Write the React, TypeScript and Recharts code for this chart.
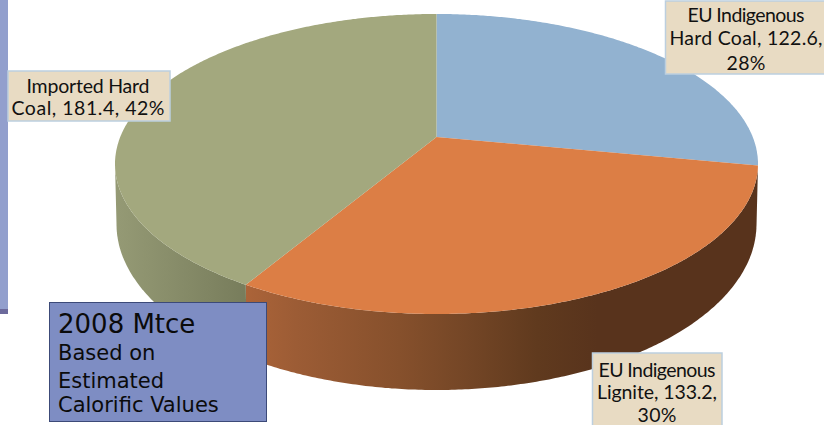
import React from 'react';
import { PieChart, Pie } from 'recharts';

const categories = ['EU Indigenous Hard Coal', 'EU Indigenous Lignite', 'Imported Hard Coal'];
const values = [122.6, 133.2, 181.4];
const labelLines = [
  ['EU Indigenous', 'Hard Coal, 122.6,', '28%'],
  ['EU Indigenous', 'Lignite, 133.2,', '30%'],
  ['Imported Hard', 'Coal, 181.4, 42%'],
];
const topColors = ['#92B2D0', '#DC7E45', '#A3A87E'];
const wallStops = [
  [['0%', '#92B2D0'], ['100%', '#92B2D0']],
  [['0%', '#AC6439'], ['15%', '#9C5C35'], ['44%', '#86502C'], ['63%', '#744626'], ['83%', '#603A1E'], ['100%', '#58331C']],
  [['0%', '#959A75'], ['100%', '#787D5C']],
];

const data = categories.map((name, i) => ({ name, value: values[i] }));

// label boxes, in chart pixels; widths are the set width of each text line
const labelBoxes = [
  { x: 665.5, y: 1, w: 162, h: 73, cx: 746, lines: [22, 45, 70], widths: [117, 153, 39] },
  { x: 592.5, y: 353, w: 129.5, h: 76, cx: 657, lines: [377, 399, 422], widths: [117, 120, 39] },
  { x: 8, y: 71, w: 162, h: 50, cx: 88, lines: [93, 115], widths: [123, 153] },
];

// perspective of the tilted disc
const SQUASH = 150 / 321.5;
const TILT = 0.18;
const DEPTH_DROP = 60;
const BOTTOM_A = 320 / 321.5;
const BOTTOM_B = 166 / 150;

const project = (deg: number) => {
  // deg is the library's angle, counter-clockwise from 3 o'clock
  const rad = (deg * Math.PI) / 180;
  const s = Math.cos(rad);
  const c = Math.sin(rad);
  const w = 1 + TILT * c;
  return { x: (s * Math.sqrt(1 - TILT * TILT)) / w, y: (c + TILT) / w };
};

const arcSamples = (from: number, to: number) => {
  const n = Math.max(2, Math.ceil(Math.abs(to - from) / 0.5));
  const out = [];
  for (let i = 0; i <= n; i++) out.push(project(from + ((to - from) * i) / n));
  return out;
};

const DiscSector = (props: any) => {
  const { cx, cy, outerRadius: r, startAngle, endAngle, index } = props;
  const b = r * SQUASH;
  const top = (p: { x: number; y: number }) => `${(cx + r * p.x).toFixed(1)},${(cy - b * p.y).toFixed(1)}`;
  const bottom = (p: { x: number; y: number }) =>
    `${(cx + r * BOTTOM_A * p.x).toFixed(1)},${(cy + DEPTH_DROP - b * BOTTOM_B * p.y).toFixed(1)}`;

  // the disc centre lands off-centre on the squashed ellipse
  const apex = { x: 0, y: TILT };
  const rim = arcSamples(startAngle, endAngle);
  // the wall only shows on the front half of the rim
  const front = rim.filter((p) => p.y <= 0);
  const gradId = `wall-${index}`;

  return (
    <g>
      <defs>
        <linearGradient id={gradId} gradientUnits="userSpaceOnUse" x1={index === 1 ? cx - r * 0.6 : cx - r} y1={0} x2={index === 1 ? cx + r * 0.5 : cx - r * 0.6} y2={0}>
          {wallStops[index].map(([offset, color]) => (
            <stop key={offset} offset={offset} stopColor={color} />
          ))}
        </linearGradient>
      </defs>
      {front.length > 1 && (
        <polygon
          points={[...front.map(top), ...[...front].reverse().map(bottom)].join(' ')}
          fill={`url(#${gradId})`}
        />
      )}
      <polygon points={[top(apex), ...rim.map(top)].join(' ')} fill={topColors[index]} />
    </g>
  );
};

const SliceLabel = ({ index }: any) => {
  const box = labelBoxes[index];
  return (
    <g>
      <rect x={box.x} y={box.y} width={box.w} height={box.h} fill="#E8DBC3" stroke="#BCCFDF" strokeWidth={1.5} />
      {labelLines[index].map((line, i) => (
        <text
          key={line}
          x={box.cx}
          y={box.lines[i]}
          textAnchor="middle"
          fontFamily="Lato"
          fontSize={19.5}
          fill="#111"
          textLength={box.widths[i]}
          lengthAdjust="spacing"
        >
          {line}
        </text>
      ))}
    </g>
  );
};

export default function App() {
  return (
    <div style={{ position: 'absolute', left: 0, top: 0, width: 824, height: 425, overflow: 'hidden', background: '#fff' }}>
      <div style={{ position: 'absolute', left: 0, top: 0, width: 8, height: 309, background: '#929FCD' }} />
      <div style={{ position: 'absolute', left: 0, top: 309, width: 8, height: 5, background: '#6C6A9C' }} />
      <div style={{ position: 'absolute', left: 0, top: 0 }}>
        <PieChart width={824} height={425} margin={{ top: 0, right: 0, bottom: 0, left: 0 }}>
          <Pie
            data={data}
            dataKey="value"
            nameKey="name"
            cx={436.5}
            cy={164}
            outerRadius={321.5}
            startAngle={90}
            endAngle={-270}
            stroke="none"
            shape={DiscSector}
            label={SliceLabel}
            labelLine={false}
            isAnimationActive={false}
          />
        </PieChart>
      </div>
      <div
        style={{
          position: 'absolute', left: 49, top: 302, width: 216, height: 118,
          background: '#7E8DC3', border: '1px solid #3C4A78', color: '#0b0b0b',
          fontFamily: 'DejaVu Sans',
        }}
      >
        <div style={{ position: 'absolute', left: 8, top: 3, fontSize: 26, lineHeight: '36px', whiteSpace: 'nowrap' }}>2008 Mtce</div>
        <div style={{ position: 'absolute', left: 8, top: 38, fontSize: 21, lineHeight: '25px', whiteSpace: 'nowrap' }}>Based on</div>
        <div style={{ position: 'absolute', left: 8, top: 66, fontSize: 21, lineHeight: '25px', whiteSpace: 'nowrap' }}>Estimated</div>
        <div style={{ position: 'absolute', left: 8, top: 90, fontSize: 21, lineHeight: '25px', whiteSpace: 'nowrap' }}>Calorific Values</div>
      </div>
    </div>
  );
}
